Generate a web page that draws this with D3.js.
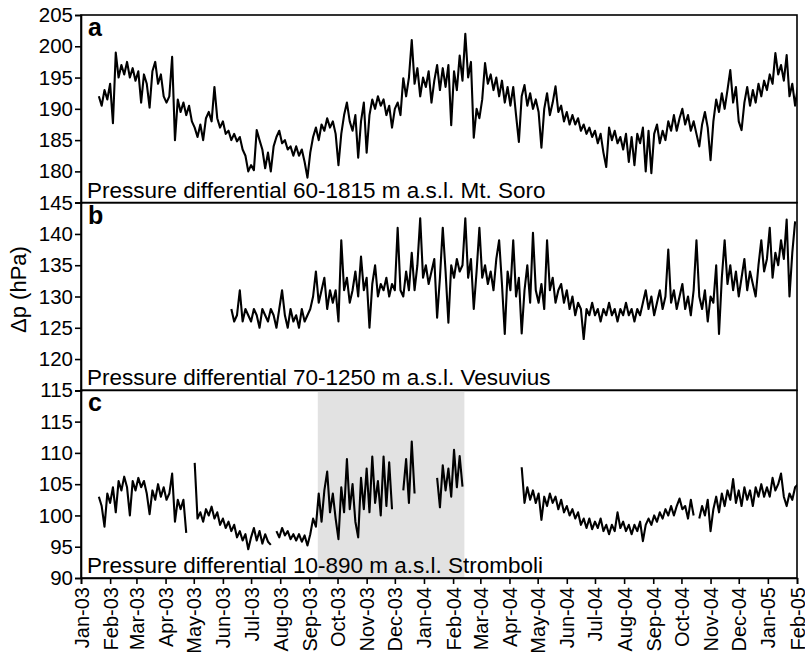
<!DOCTYPE html>
<html>
<head>
<meta charset="utf-8">
<script src="https://cdn.jsdelivr.net/npm/d3@7/dist/d3.min.js"></script>
<style>
  body { margin: 0; background: #fff; }
  text { font-family: "Liberation Sans", Arial, sans-serif; fill: #000; }
</style>
</head>
<body>
<div id="chart"></div>
<script>
// values, one every 3 days (null = no data)
const seriesStartA = "2003-01-20"
const sorodP = [
  192, 190.5, 193, 191.5,
  194, 187.7, 199, 195, 197, 195.5, 197.5, 195, 196.5, 194.5,
  196, 191, 195.5, 194, 190.2, 196, 197.5, 194, 195.5, 192,
  191, 192, 198.3, 185, 191.5, 189.5, 191, 189, 190.5, 188,
  187, 185.5, 187.5, 185, 188.5, 189.5, 188, 193.5, 188.5, 187, 188,
  186, 186.5, 185, 186, 184.8, 185.5, 183.5, 182.5, 180, 181,
  180.2, 186.6, 185, 183.5, 180.5, 183, 180, 184, 185.5, 186.5,
  184.5, 185, 183.5, 184, 182.5, 184, 182.5, 183.5, 181.5, 179,
  183, 185.5, 187, 185, 187.5, 186.5, 188.5, 187, 188, 186, 181,
  186, 189, 191, 188, 186.5, 189, 182.2, 188, 191, 183,
  189, 191.5, 190, 192, 190.5, 191.5, 189, 190.5, 187, 190,
  191, 189, 194.9, 192, 195, 201, 194, 196.5, 192, 195,
  193.5, 196, 191, 194.5, 197, 193, 196.5, 193.5, 197, 187.4, 196,
  193, 198.5, 194.5, 202, 195, 197.5, 185.4, 190, 188.5,
  191.5, 197.3, 194, 195.5, 193, 195, 192, 194.5, 191, 193.5,
  190.5, 193.5, 189, 184.7, 192, 193.8, 190.5, 192.5, 190, 191.5, 189.5,
  183.8, 190, 192.5, 189, 191, 193.6, 189.5, 190.5, 188, 189.5,
  187.5, 189, 187.5, 188.5, 186.5, 187.5, 186, 187, 185.5, 186.5,
  184.5, 186, 183, 180.7, 187, 185, 186.5, 184.5, 185.5, 183.5,
  186, 181.5, 185.5, 181, 186, 184.5, 187, 180, 186.5, 179.7, 186,
  187.5, 184.5, 186.5, 185, 188, 186.5, 189, 186.5, 188.5, 190,
  187.5, 189, 186.5, 188, 186, 184, 187.5, 189.5, 187, 181.8,
  188, 191.5, 189.5, 192.5, 190, 193, 196.2, 191, 193.5, 188,
  186.6, 191, 193.5, 190.5, 193, 191, 194, 192, 194.5, 193,
  195.5, 194, 198.9, 195.5, 197, 194.5, 198.6, 192, 194, 190.5, 193.5
]

const seriesStartB = "2003-06-10"
const vesuviusP = [
  128, 126, 127, 131, 126, 128, 127,
  126, 128, 127, 125, 128, 127, 126, 128, 127, 125, 128,
  131, 127, 125, 128, 126, 127, 125, 128, 126, 127,
  128, 130, 134, 129, 131, 133, 128, 131, 129, 131, 126,
  139, 131, 133, 129, 131, 134, 130, 136.4, 131, 133, 125,
  132, 135, 130, 132, 131, 133, 130, 132, 131, 141,
  131, 130, 134, 131, 137, 131, 135, 142.5, 133, 135, 132,
  134, 136, 126.6, 133, 141, 134, 125.8, 135, 133, 136,
  134, 135, 142.5, 133, 136, 128, 134, 141, 133, 135,
  132, 134, 131, 136, 139, 132, 124, 134, 131, 139, 130,
  133, 124.1, 131, 135, 129, 140.2, 131, 129, 132, 128, 139,
  131, 133, 129, 131, 132, 129, 131, 128, 130, 127, 129,
  128, 123.2, 128, 127, 129, 127, 128, 126, 128, 127,
  129, 127, 128, 126, 128, 127, 129, 127, 128, 126, 128,
  127, 129, 131, 128, 130, 127, 129, 131, 128, 130, 137.5,
  129, 131, 128, 130, 132, 128, 130, 127, 131, 139,
  130, 128, 131, 126, 130, 129, 135, 124, 133, 139, 132,
  135, 131, 134, 130, 133, 136, 131, 134, 132, 130,
  135, 139, 134, 136, 141, 133, 137, 135, 139, 136, 142.3,
  130, 137, 142
]

const seriesStartC = "2003-01-20"
const stromboliP = [
  103, 101.5, 98.2, 103.5, 102, 104.5, 100.5, 105.5, 104, 106.2,
  104.5, 100, 105.5, 104, 106, 104.5, 105.5, 103.5, 100.2, 104,
  102.5, 105, 103, 104.5, 102.5, 103.5, 106.7, 99, 102.5, 101,
  102.5, 97.2, null, null,
  108.4, 99.5, 100.5, 99, 101, 100, 101.4, 99.5, 100.5, 98.5,
  99.5, 98, 99, 97.5, 98.5, 96.5, 97.5, 96, 97, 94.6,
  96.5, 98, 96, 97.5, 95.5, 97, 95.8, 95.3, null, 97.5,
  96.5, 98, 96.8, 97.5, 96.2, 97, 96, 97, 95.8, 96.8,
  95.2, 97, 99.5, 98.2, 103.5, 99, 104, 107, 100.5, 103.5,
  99.5, 96.2, 104.5, 100.5, 109, 101, 105, 99, 96.5, 106,
  101, 107.5, 100.5, 109.4, 102, 105.5, 100, 109.4, 101.5, 108.5,
  101, null, null, null,
  104, 109, 102, 111.8, 103.5,
  null, null, null, null, null, null, null,
  106, 101.3, 108, 104, 107.5, 103, 110.5, 104.5, 109.5, 104.6,
  null, null, null, null, null, null, null, null, null, null,
  null, null, null, null, null, null, null, null, null, null,
  107.7, 102, 104.5, 102.5, 104, 102, 103.5, 99.3, 103, 101.5,
  103.5, 102, 103, 101, 102.5, 100.5, 101.5, 100, 101, 99.5,
  100.5, 98.5, 99.5, 98, 99.5, 97.8, 99, 98, 99.5, 97.5,
  98.5, 97, 98.5, 97.5, 100.5, 98, 99, 97.5, 98.5, 97,
  98.5, 97.5, 99, 95.9, 98.5, 99.5, 98.5, 100, 99, 100.5,
  99.5, 101, 100, 101.5, 100, 101.5, 102.7, 101, 101.5, 99.5,
  102.5, 100, null, 99.5, 101.5, 100, 102.5, 97.5, 101, 103,
  100.5, 103.5, 101.5, 104, 102.5, 105.8, 102, 104, 101.5, 104.5,
  102.5, 104, 101.5, 104.5, 103, 105, 103, 104.5, 103, 106,
  104, 105, 106.7, 103, 101.5, 103.5, 102.5, 104.5, 105
]
const stepDays = 3

const panelLetters = ["a", "b", "c"]
const panelTitles = [
  "Pressure differential 60-1815 m a.s.l. Mt. Soro",
  "Pressure differential 70-1250 m a.s.l. Vesuvius",
  "Pressure differential 10-890 m a.s.l. Stromboli"
]
const panelDomains = [[175, 205], [115, 145], [90, 120]]
const panelTicks = [
  [180, 185, 190, 195, 200, 205],
  [115, 120, 125, 130, 135, 140, 145],
  [90, 95, 100, 105, 110, 115]
]
const xDomain = ["2003-01-01", "2005-02-01"]
const tickLabels = [
  "Jan-03", "Feb-03", "Mar-03", "Apr-03", "May-03", "Jun-03", "Jul-03", "Aug-03",
  "Sep-03", "Oct-03", "Nov-03", "Dec-03", "Jan-04", "Feb-04", "Mar-04", "Apr-04",
  "May-04", "Jun-04", "Jul-04", "Aug-04", "Sep-04", "Oct-04", "Nov-04", "Dec-04",
  "Jan-05", "Feb-05"
]
const shadeRange = ["2003-09-10", "2004-02-13"]

const parse = d3.timeParse("%Y-%m-%d")

const toPoints = (start, values) => {
  const t0 = parse(start)
  return values.map((v, i) => ({ date: d3.timeDay.offset(t0, i * stepDays), v: v }))
}
const panelData = [
  toPoints(seriesStartA, sorodP),
  toPoints(seriesStartB, vesuviusP),
  toPoints(seriesStartC, stromboliP)
]

const W = 805, H = 662
const margin = { top: 15, right: 8, bottom: 84, left: 81 }
const innerW = W - margin.left - margin.right
const innerH = H - margin.top - margin.bottom
const panelH = innerH / 3

const svg = d3.select("#chart").append("svg")
  .attr("width", W)
  .attr("height", H)

const rootG = svg.append("g")
  .attr("transform", "translate(" + margin.left + "," + margin.top + ")")

const xScale = d3.scaleTime()
  .domain(xDomain.map(parse))
  .range([0, innerW])

const tickDates = d3.timeMonth.range(parse(xDomain[0]), d3.timeDay.offset(parse(xDomain[1]), 1))

panelData.forEach((data, i) => {
  const g = rootG.append("g")
    .attr("transform", "translate(0," + (i * panelH) + ")")

  const yScale = d3.scaleLinear()
    .domain(panelDomains[i])
    .range([panelH, 0])

  g.append("clipPath").attr("id", "clip" + i)
    .append("rect").attr("width", innerW).attr("height", panelH)

  // grey band on the Stromboli panel
  if (i === 2) {
    g.append("rect")
      .attr("x", xScale(parse(shadeRange[0])))
      .attr("width", xScale(parse(shadeRange[1])) - xScale(parse(shadeRange[0])))
      .attr("y", 0)
      .attr("height", panelH)
      .attr("fill", "#e2e2e2")
  }

  const line = d3.line()
    .defined(d => d.v !== null)
    .x(d => xScale(d.date))
    .y(d => yScale(d.v))

  g.append("path")
    .datum(data)
    .attr("clip-path", "url(#clip" + i + ")")
    .attr("fill", "none")
    .attr("stroke", "#000")
    .attr("stroke-width", 2.1)
    .attr("stroke-linejoin", "round")
    .attr("d", line)

  g.append("rect")
    .attr("width", innerW)
    .attr("height", panelH)
    .attr("fill", "none")
    .attr("stroke", "#000")
    .attr("stroke-width", 1.6)

  const yAxis = d3.axisLeft(yScale)
    .tickValues(panelTicks[i])
    .tickSize(6)
    .tickPadding(2)
    .tickFormat(d3.format("d"))
  g.append("g").attr("class", "y axis")
    .call(yAxis)
    .call(s => s.selectAll("path, line").attr("stroke-width", 1.6))
    .call(s => s.selectAll("text").attr("font-size", 20.5).attr("font-family", null))

  g.append("text")
    .attr("x", 7)
    .attr("y", 21)
    .attr("font-size", 25)
    .attr("font-weight", "bold")
    .text(panelLetters[i])

  g.append("text")
    .attr("x", 6)
    .attr("y", panelH - 5)
    .attr("font-size", 22.5)
    .text(panelTitles[i])
})

// x axis under the bottom panel
const xAxis = d3.axisBottom(xScale)
  .tickValues(tickDates)
  .tickSize(6)
  .tickPadding(2)
  .tickFormat((d, i) => tickLabels[i])

rootG.append("g").attr("class", "x axis")
  .attr("transform", "translate(0," + innerH + ")")
  .call(xAxis)
  .call(s => s.selectAll("path, line").attr("stroke-width", 1.6))
  .call(s => s.selectAll("text")
    .attr("font-size", 20)
    .attr("font-family", null)
    .attr("text-anchor", "end")
    .attr("transform", "rotate(-90)")
    .attr("x", -9)
    .attr("y", 0)
    .attr("dy", "0.35em"))

svg.append("text")
  .attr("transform", "translate(26," + (margin.top + innerH / 2 - 7) + ") rotate(-90)")
  .attr("text-anchor", "middle")
  .attr("font-size", 22)
  .text("Δp (hPa)")
</script>
</body>
</html>
